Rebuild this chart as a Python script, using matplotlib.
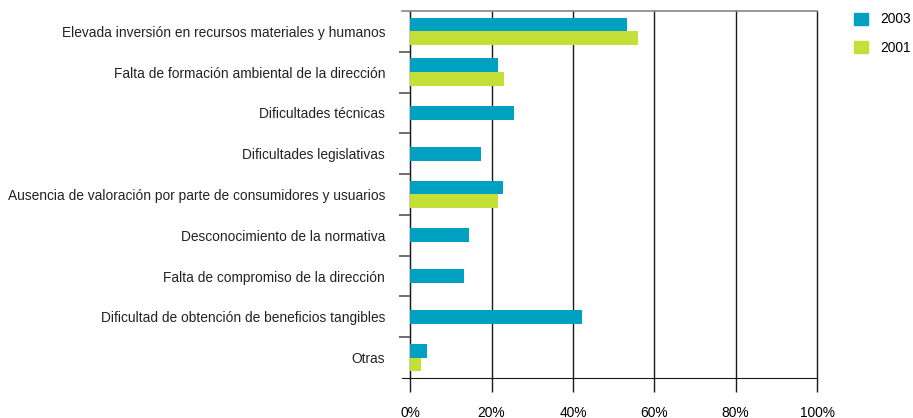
import matplotlib
matplotlib.use('Agg')
import matplotlib.pyplot as plt
import numpy as np

categories = [
    'Elevada inversión en recursos materiales y humanos',
    'Falta de formación ambiental de la dirección',
    'Dificultades técnicas',
    'Dificultades legislativas',
    'Ausencia de valoración por parte de consumidores y usuarios',
    'Desconocimiento de la normativa',
    'Falta de compromiso de la dirección',
    'Dificultad de obtención de beneficios tangibles',
    'Otras',
]
values_2003 = [53.3, 21.5, 25.5, 17.4, 22.8, 14.4, 13.2, 42.2, 4.1]
values_2001 = [56.0, 23.0, None, None, 21.5, None, None, None, 2.6]
x_ticks = [0, 20, 40, 60, 80, 100]

color_2003 = '#00A1C0'
color_2001 = '#C4DF38'

plt.rcParams['font.family'] = ['Liberation Sans', 'DejaVu Sans']
fs = 9.9

fig = plt.figure(figsize=(9.13, 4.18), dpi=100)
ax = fig.add_axes([402 / 913, 1 - 378 / 418, 415 / 913, 367 / 418])

n = len(categories)
pos = np.arange(n)[::-1]  # first category at top
h = 0.34
for i, (v3, v1) in enumerate(zip(values_2003, values_2001)):
    y = pos[i]
    if v1 is None:
        # only one series -> centre the bar in its row
        ax.barh(y, v3, height=h, color=color_2003, zorder=3)
    else:
        ax.barh(y + h / 2, v3, height=h, color=color_2003, zorder=3)
        ax.barh(y - h / 2, v1, height=h, color=color_2001, zorder=3)

ax.set_xlim(-2, 100)
ax.set_ylim(-0.5, n - 0.5)

# vertical gridlines
for t in x_ticks:
    ax.axvline(t, color='#1a1a1a', lw=1, zorder=1, clip_on=False)

ax.set_xticks(x_ticks)
ax.set_xticklabels([f'{t}%' for t in x_ticks], fontsize=fs)
ax.tick_params(axis='x', length=10, width=1, color='#1a1a1a', pad=10)

# category labels, separator ticks sit on the 0% line
ax.spines['left'].set_position(('data', 0))
ax.spines['left'].set_color('#1a1a1a')
ax.set_yticks(pos)
ax.set_yticklabels(categories, fontsize=fs, color='#222222')
ax.tick_params(axis='y', which='major', length=0, pad=18)
ax.set_yticks(np.arange(n - 1) + 0.5, minor=True)
ax.tick_params(axis='y', which='minor', length=8, width=1.2, color='#555555')
ax.spines['right'].set_visible(False)
ax.spines['top'].set_color('#888888')
ax.spines['top'].set_linewidth(1.2)
ax.spines['bottom'].set_color('#1a1a1a')

handles = [plt.Rectangle((0, 0), 1, 1, color=color_2003),
           plt.Rectangle((0, 0), 1, 1, color=color_2001)]
fig.legend(handles, ['2003', '2001'], loc='upper left',
           bbox_to_anchor=(842 / 913, 1.0), frameon=False, fontsize=fs,
           handlelength=1.0, handleheight=1.0, labelspacing=1.05,
           handletextpad=0.9)

fig.savefig('out.png', dpi=100)
